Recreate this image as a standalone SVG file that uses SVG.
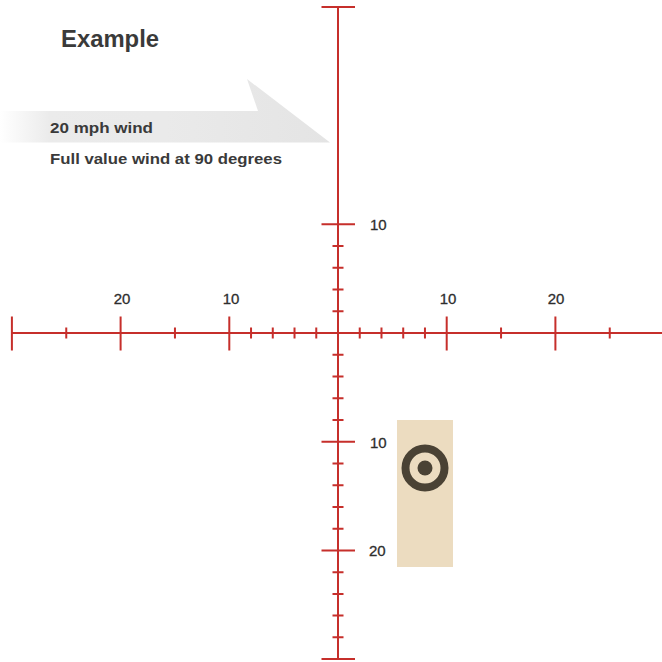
<svg xmlns="http://www.w3.org/2000/svg" width="662" height="662" viewBox="0 0 662 662">
  <defs>
    <linearGradient id="windGrad" x1="0" y1="0" x2="1" y2="0">
      <stop offset="0" stop-color="#e6e6e6" stop-opacity="0"/>
      <stop offset="0.15" stop-color="#e6e6e6" stop-opacity="0.8"/>
      <stop offset="0.5" stop-color="#eaeaea"/>
      <stop offset="1" stop-color="#e4e4e4"/>
    </linearGradient>
    <style>
      .axis { stroke: #c62f2b; stroke-width: 2; fill: none; }
      .tick { stroke: #c62f2b; stroke-width: 2; fill: none; }
      .lbl { font-family: "Liberation Sans", Arial, sans-serif; font-size: 15px; fill: #2e2e2e; stroke: #2e2e2e; stroke-width: 0.3; }
      .num { text-anchor: middle; }
      .txt { font-family: "Liberation Sans", Arial, sans-serif; font-weight: bold; fill: #3a3a3a; }
    </style>
  </defs>
  <rect width="662" height="662" fill="#ffffff"/>

  <g id="wind-arrow">
    <polygon points="0,111 258,111 247,79 330,142.5 0,142.5" fill="url(#windGrad)"/>
    <text class="txt" x="50" y="133" font-size="15" textLength="103" lengthAdjust="spacingAndGlyphs">20 mph wind</text>
    <text class="txt" x="50" y="164" font-size="15" textLength="232" lengthAdjust="spacingAndGlyphs">Full value wind at 90 degrees</text>
  </g>

  <g id="title">
    <text class="txt" x="61" y="47" font-size="23" fill="#333333" textLength="98" lengthAdjust="spacingAndGlyphs">Example</text>
  </g>

  <g id="target">
    <rect x="397" y="420" width="56" height="147" fill="#ecdcc0"/>
    <circle cx="425" cy="468" r="19.5" fill="none" stroke="#4a4234" stroke-width="8"/>
    <circle cx="425" cy="468" r="7.5" fill="#4a4234"/>
  </g>

  <g id="reticle">
    <line class="axis" x1="12" y1="333" x2="662" y2="333"/>
    <line class="axis" x1="338" y1="7" x2="338" y2="659"/>
    <path class="tick" d="M11.9,316.5V350.5 M120.6,316.5V350.5 M229.3,316.5V350.5 M446.7,316.5V350.5 M555.4,316.5V350.5 M664.1,316.5V350.5"/>
    <path class="tick" d="M66.25,327.5V338.5 M174.95,327.5V338.5 M251.04,327.5V338.5 M272.78,327.5V338.5 M294.52,327.5V338.5 M316.26,327.5V338.5 M359.74,327.5V338.5 M381.48,327.5V338.5 M403.22,327.5V338.5 M424.96,327.5V338.5 M501.05,327.5V338.5 M609.75,327.5V338.5"/>
    <path class="tick" d="M321.5,7H355 M321.5,224.3H355 M321.5,441.7H355 M321.5,550.4H355 M321.5,659.1H355"/>
    <path class="tick" d="M332.5,246.04H343.5 M332.5,267.78H343.5 M332.5,289.52H343.5 M332.5,311.26H343.5 M332.5,354.74H343.5 M332.5,376.48H343.5 M332.5,398.22H343.5 M332.5,419.96H343.5 M332.5,463.44H343.5 M332.5,485.18H343.5 M332.5,506.92H343.5 M332.5,528.66H343.5 M332.5,572.14H343.5 M332.5,593.88H343.5 M332.5,615.62H343.5 M332.5,637.36H343.5"/>
  </g>

  <g id="labels">
    <text class="lbl num" x="122" y="304">20</text>
    <text class="lbl num" x="231" y="304">10</text>
    <text class="lbl num" x="448" y="304">10</text>
    <text class="lbl num" x="556" y="304">20</text>
    <text class="lbl" x="370" y="230">10</text>
    <text class="lbl" x="370" y="447.5">10</text>
    <text class="lbl" x="369" y="556">20</text>
  </g>
</svg>
